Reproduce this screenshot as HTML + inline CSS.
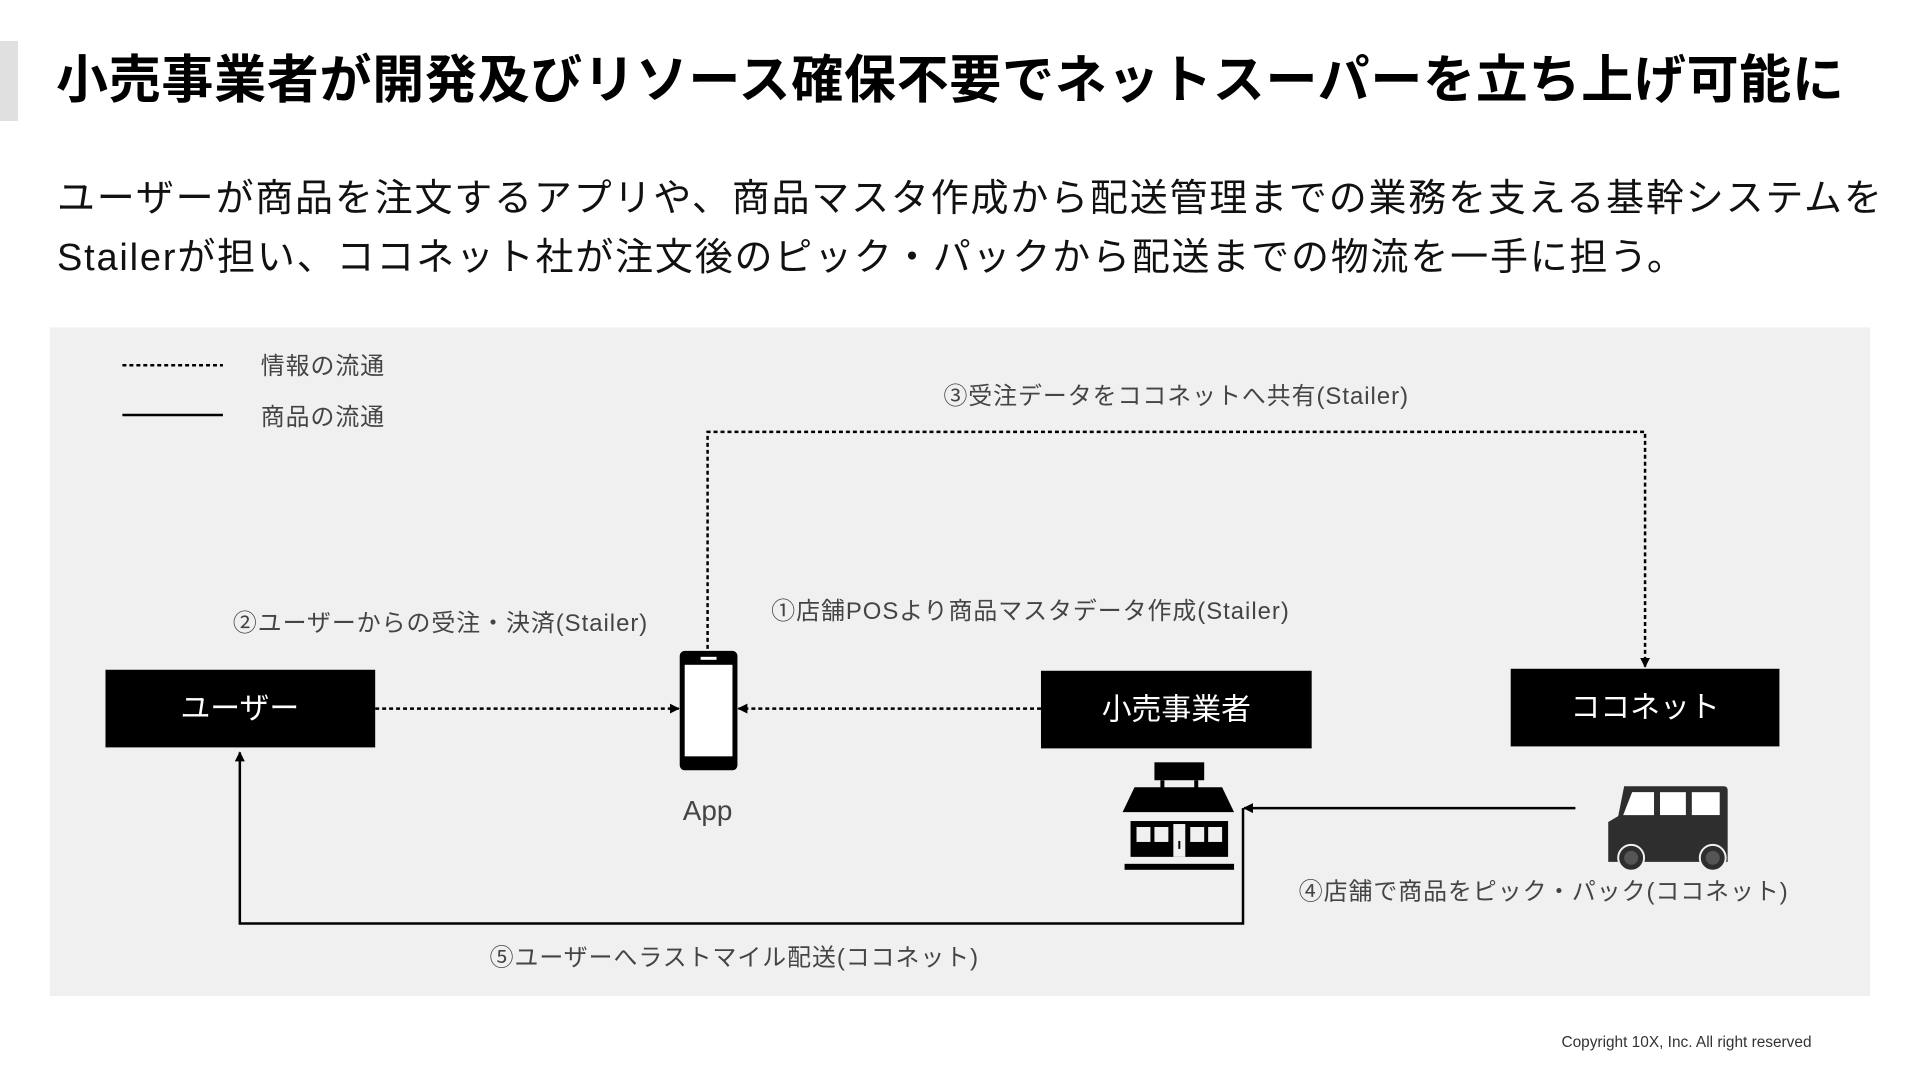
<!DOCTYPE html>
<html><head><meta charset="utf-8"><style>
body{margin:0;width:1920px;height:1080px;background:#fff;overflow:hidden;position:relative;font-family:"Liberation Sans","Noto Sans CJK JP",sans-serif;}
.a{position:absolute;white-space:nowrap;}
</style></head><body>
<div class="a" style="left:0;top:41px;width:18px;height:80px;background:#e0e0e0"></div>
<div class="a" style="left:56px;top:46px;font-size:52px;font-weight:bold;letter-spacing:0.7px;color:#000;line-height:70px">小売事業者が開発及びリソース確保不要でネットスーパーを立ち上げ可能に</div>
<div class="a" style="left:57px;top:170px;font-size:38px;letter-spacing:1.8px;color:#111;line-height:59px">ユーザーが商品を注文するアプリや、商品マスタ作成から配送管理までの業務を支える基幹システムを<br>Stailerが担い、ココネット社が注文後のピック・パックから配送までの物流を一手に担う。</div>
<svg class="a" style="left:0;top:0" width="1920" height="1080" font-family="Liberation Sans, Noto Sans CJK JP, sans-serif">
<defs><marker id="ar" markerWidth="10" markerHeight="10" refX="9" refY="5" orient="auto" markerUnits="userSpaceOnUse"><path d="M0,0L10,5L0,10z" fill="#000"/></marker></defs>
<g transform="scale(0.9952)">
<rect x="50" y="329" width="1829" height="672" fill="#f0f0f0"/>
<line x1="123" y1="367" x2="224" y2="367" stroke="#000" stroke-width="2.5" stroke-dasharray="4,3"/>
<line x1="123" y1="417" x2="224" y2="417" stroke="#000" stroke-width="2.5"/>
<g font-size="24" fill="#444" letter-spacing="1">
<text x="262" y="376">情報の流通</text>
<text x="262" y="427">商品の流通</text>
<text x="948" y="406">③受注データをココネットへ共有(Stailer)</text>
<text x="234" y="634">②ユーザーからの受注・決済(Stailer)</text>
<text x="775" y="622">①店舗POSより商品マスタデータ作成(Stailer)</text>
<text x="1305" y="904">④店舗で商品をピック・パック(ココネット)</text>
<text x="492" y="970">⑤ユーザーへラストマイル配送(ココネット)</text>
<text x="711" y="824" text-anchor="middle" font-size="28" letter-spacing="0">App</text>
</g>
<polyline points="711,652 711,434 1653,434 1653,670" fill="none" stroke="#000" stroke-width="2.5" stroke-dasharray="4,3" marker-end="url(#ar)"/>
<line x1="377" y1="712" x2="682" y2="712" stroke="#000" stroke-width="2.5" stroke-dasharray="4,3" marker-end="url(#ar)"/>
<line x1="1046" y1="712" x2="742" y2="712" stroke="#000" stroke-width="2.5" stroke-dasharray="4,3" marker-end="url(#ar)"/>
<line x1="1583" y1="812" x2="1250" y2="812" stroke="#000" stroke-width="2.5" marker-end="url(#ar)"/>
<polyline points="1249,812 1249,928 241,928 241,756" fill="none" stroke="#000" stroke-width="2.5" marker-end="url(#ar)"/>
<rect x="106" y="673" width="271" height="78" fill="#000"/>
<rect x="1046" y="674" width="272" height="78" fill="#000"/>
<rect x="1518" y="672" width="270" height="78" fill="#000"/>
<g font-size="30" fill="#fff" text-anchor="middle">
<text x="241" y="722">ユーザー</text>
<text x="1182" y="723">小売事業者</text>
<text x="1653" y="721">ココネット</text>
</g>
<rect x="683" y="654" width="58" height="120" rx="5" fill="#000"/>
<rect x="688" y="668" width="48" height="92" fill="#fff"/>
<rect x="704" y="660" width="16" height="3" fill="#fff"/>
<g transform="translate(8,0)">
<g fill="#000">
<rect x="1152" y="766" width="50" height="18"/>
<rect x="1158" y="784" width="4" height="8"/><rect x="1192" y="784" width="4" height="8"/>
<path d="M1132,791 L1220,791 L1232,816 L1120,816 Z"/>
<rect x="1128" y="825" width="98" height="36"/>
<rect x="1122" y="868" width="110" height="6"/>
</g>
<g fill="#f0f0f0"><rect x="1134" y="831" width="14" height="15"/><rect x="1152" y="831" width="14" height="15"/><rect x="1188" y="831" width="14" height="15"/><rect x="1206" y="831" width="14" height="15"/><rect x="1171" y="828" width="12" height="33"/></g>
<rect x="1176" y="845" width="2" height="8" fill="#000"/>
</g>
<g transform="translate(4,0)">
<path d="M1628,790 L1728,790 Q1732,790 1732,794 L1732,866 L1612,866 L1612,826 L1622,820 L1628,790 Z" fill="#2e2e2e"/>
<path d="M1636,796 L1658,796 L1658,819 L1627,819 Z" fill="#fff"/>
<rect x="1664" y="796" width="26" height="23" fill="#fff"/>
<rect x="1696" y="796" width="28" height="23" fill="#fff"/>
<circle cx="1635" cy="862" r="13" fill="#2e2e2e" stroke="#f0f0f0" stroke-width="2"/><circle cx="1635" cy="862" r="7" fill="#555"/>
<circle cx="1717" cy="862" r="13" fill="#2e2e2e" stroke="#f0f0f0" stroke-width="2"/><circle cx="1717" cy="862" r="7" fill="#555"/>
</g>
<text x="1569" y="1052" font-size="15.5" fill="#333">Copyright 10X, Inc. All right reserved</text>
</g>
</svg>
</body></html>
